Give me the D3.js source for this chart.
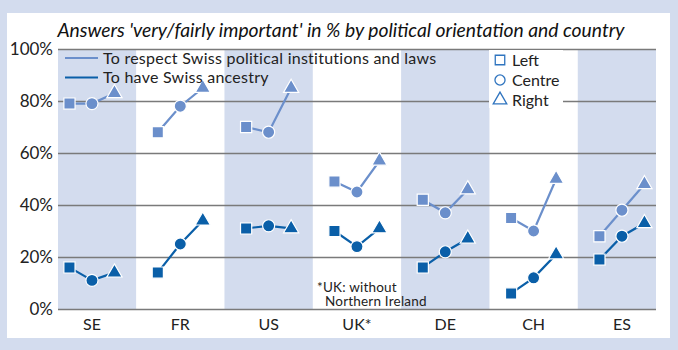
<!DOCTYPE html>
<html>
<head>
<meta charset="utf-8">
<script src="https://cdn.jsdelivr.net/npm/d3@7"></script>
<style>
  body { margin: 0; background: #d3dcee; }
  svg { display: block; font-family: Lato, "DejaVu Sans", sans-serif; }
</style>
</head>
<body>
<div id="chart"></div>
<script>
const countries = ["SE", "FR", "US", "UK*", "DE", "CH", "ES"];
const orientations = ["Left", "Centre", "Right"];
const seriesNames = ["To respect Swiss political institutions and laws", "To have Swiss ancestry"];
// values per country: [Left, Centre, Right]
const respectValues = [[79, 79, 83], [68, 78, 85], [70, 68, 85], [49, 45, 57], [42, 37, 46], [35, 30, 50], [28, 38, 48]];
const ancestryValues = [[16, 11, 14], [14, 25, 34], [31, 32, 31], [30, 24, 31], [16, 22, 27], [6, 12, 21], [19, 28, 33]];
const yTicks = [0, 20, 40, 60, 80, 100];

const W = 678, H = 350;
const colors = ["#6b8fcb", "#0a5fa8"];
const bandColor = "#d3dcee";

const svg = d3.select("#chart").append("svg")
  .attr("width", W).attr("height", H);

svg.append("rect").attr("width", W).attr("height", H).attr("fill", bandColor);
svg.append("rect").attr("x", 7).attr("y", 13).attr("width", 663).attr("height", 325).attr("fill", "#fff");

svg.append("text")
  .attr("x", 341).attr("y", 37)
  .attr("text-anchor", "middle")
  .attr("font-style", "italic")
  .attr("font-size", 19.3)
  .attr("fill", "#111")
  .text("Answers 'very/fairly important' in % by political orientation and country");

const plot = { l: 58, r: 656, t: 49, b: 309 };

const x = d3.scaleBand().domain(countries).range([47.8, 666.1]).paddingInner(0).paddingOuter(0);
const sub = d3.scalePoint().domain(orientations).range([-22.5, 22.5]);
const y = d3.scaleLinear().domain([0, 100]).range([plot.b, plot.t]);

svg.append("clipPath").attr("id", "clip")
  .append("rect").attr("x", plot.l).attr("y", plot.t).attr("width", plot.r - plot.l).attr("height", plot.b - plot.t);

// alternating column bands
svg.append("g").attr("clip-path", "url(#clip)")
  .selectAll("rect")
  .data(countries.filter((d, i) => i % 2 === 0))
  .join("rect")
  .attr("x", d => x(d))
  .attr("y", plot.t)
  .attr("width", x.bandwidth())
  .attr("height", plot.b - plot.t)
  .attr("fill", bandColor);

// gridlines
const yAxis = svg.append("g")
  .attr("transform", "translate(" + plot.l + ",0)")
  .call(d3.axisLeft(y).tickValues(yTicks).tickFormat(d => d + "%").tickSize(-(plot.r - plot.l)).tickPadding(5));
yAxis.select(".domain").remove();
yAxis.selectAll(".tick line").attr("stroke", "#7a7a7a").attr("stroke-width", 1.3);
yAxis.selectAll(".tick text").attr("font-size", 17).attr("fill", "#222").attr("font-family", "Lato, sans-serif");

// white box behind marker legend
svg.append("rect").attr("x", 489).attr("y", 50).attr("width", 74).attr("height", 58).attr("fill", "#fff");

// x labels
const xAxis = svg.append("g")
  .attr("transform", "translate(0," + plot.b + ")")
  .call(d3.axisBottom(x).tickSize(0).tickPadding(10));
xAxis.select(".domain").remove();
xAxis.selectAll(".tick text").attr("font-size", 16).attr("fill", "#222").attr("font-family", "Lato, sans-serif");

// footnote
svg.append("text").attr("x", 317).attr("y", 291.5).attr("font-size", 13.5).attr("letter-spacing", 0.2)
  .attr("fill", "#222").text("*UK: without");
svg.append("text").attr("x", 325).attr("y", 306).attr("font-size", 13.5).attr("letter-spacing", 0.2)
  .attr("fill", "#222").text("Northern Ireland");

const symbols = [d3.symbolSquare, d3.symbolCircle, d3.symbolTriangle];
const sizes = [125, 115, 100];

[respectValues, ancestryValues].forEach((vals, si) => {
  const g = svg.append("g");
  const line = d3.line()
    .x((d, i) => sub(orientations[i]))
    .y(d => y(d));
  const groups = g.selectAll("g")
    .data(vals)
    .join("g")
    .attr("transform", (d, i) => "translate(" + (x(countries[i]) + x.bandwidth() / 2) + ",0)");
  groups.append("path")
    .attr("d", d => line(d))
    .attr("fill", "none")
    .attr("stroke", colors[si])
    .attr("stroke-width", 2.2);
  groups.selectAll("path.m")
    .data(d => d)
    .join("path")
    .attr("class", "m")
    .attr("transform", (d, i) => "translate(" + sub(orientations[i]) + "," + y(d) + ")")
    .attr("d", (d, i) => d3.symbol(symbols[i], sizes[i])())
    .attr("fill", colors[si])
    .attr("stroke", "#fff")
    .attr("stroke-width", 1.2);
});

// series legend
const leg = svg.append("g").attr("transform", "translate(65,58)");
seriesNames.forEach((name, i) => {
  const row = leg.append("g").attr("transform", "translate(0," + (i * 19.5) + ")");
  row.append("line").attr("x1", 0).attr("x2", 33).attr("stroke", colors[i]).attr("stroke-width", 2);
  row.append("text").attr("x", 38).attr("y", 5.5).attr("font-size", 16).attr("letter-spacing", 0.25)
    .attr("fill", "#222").text(name);
});

// orientation legend
const leg2 = svg.append("g").attr("transform", "translate(500,60)");
orientations.forEach((name, i) => {
  const row = leg2.append("g").attr("transform", "translate(0," + (i * 20) + ")");
  row.append("path")
    .attr("d", d3.symbol(symbols[i], [90, 80, 80][i])())
    .attr("fill", "none")
    .attr("stroke", "#2f74bf")
    .attr("stroke-width", 1.3);
  row.append("text").attr("x", 12).attr("y", 5.5).attr("font-size", 16).attr("fill", "#222").text(name);
});
</script>
</body>
</html>
